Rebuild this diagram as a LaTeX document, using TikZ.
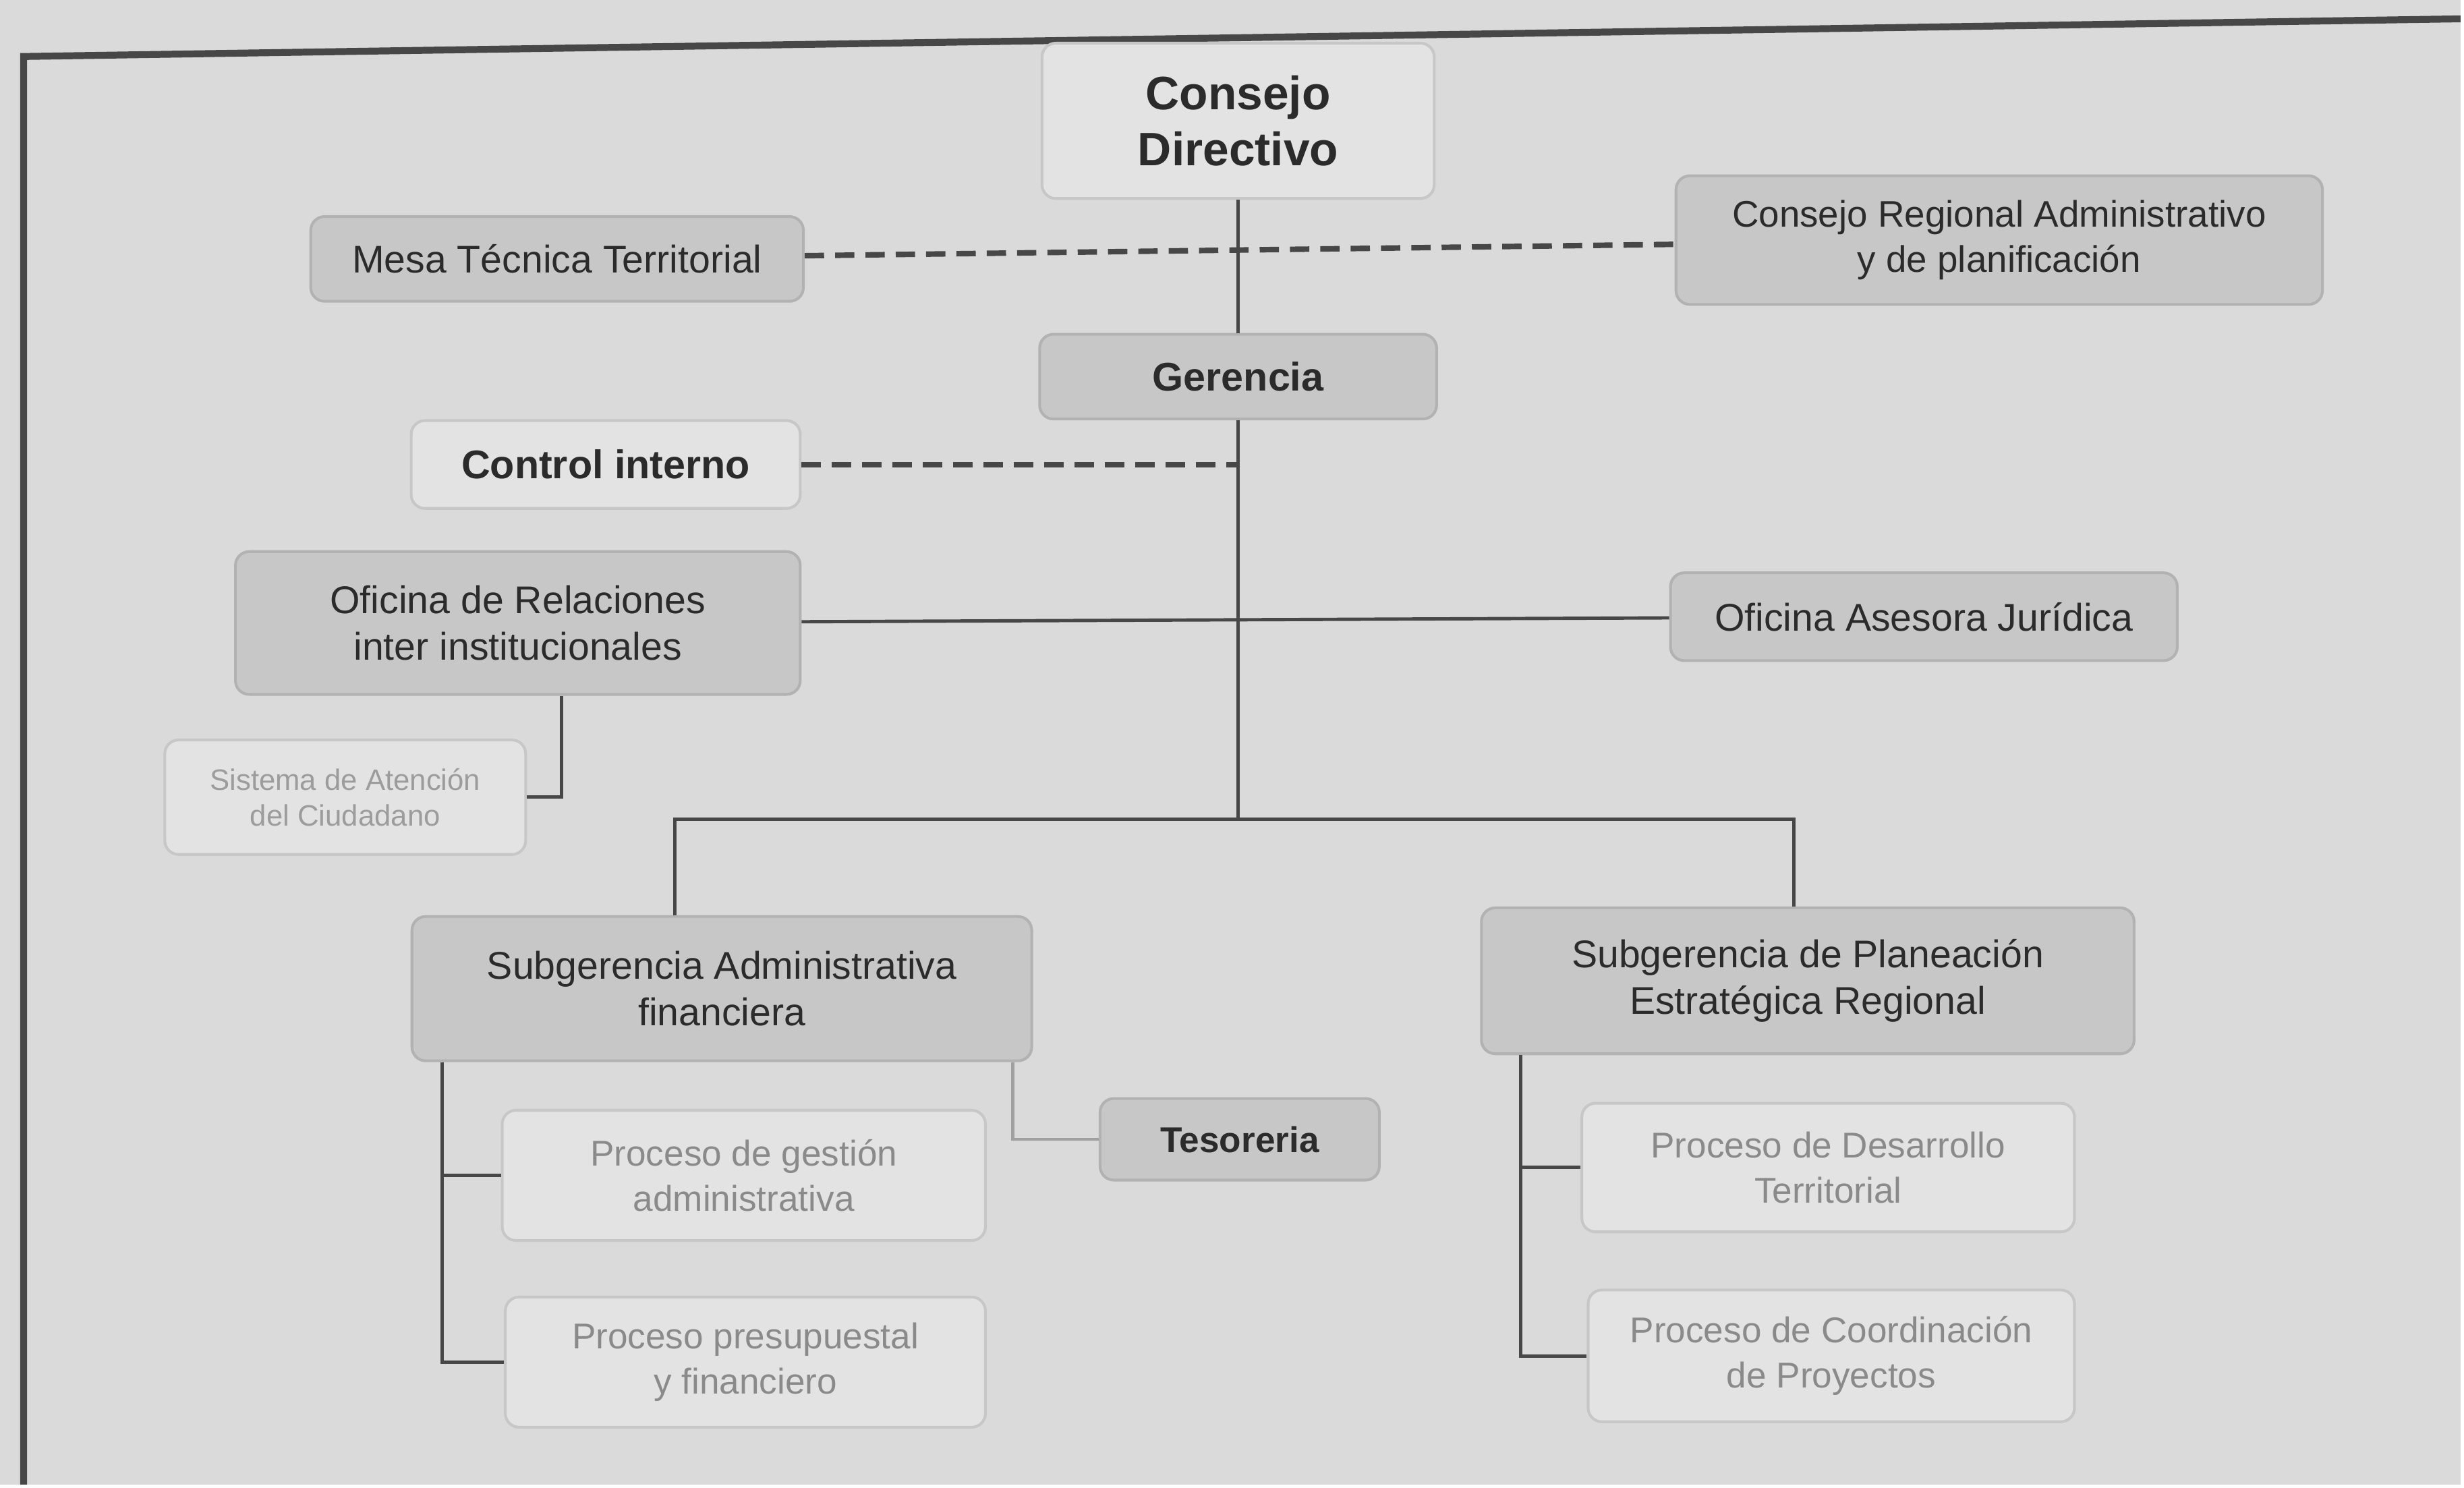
\documentclass[tikz,border=0pt]{standalone}
\usepackage{fontspec}
\setmainfont{Liberation Sans}
\usetikzlibrary{positioning,calc}
\definecolor{paper}{HTML}{DADADA}
\definecolor{boxgray}{HTML}{C7C7C7}
\definecolor{boxlight}{HTML}{E3E3E3}
\definecolor{edgegray}{HTML}{B2B2B2}
\definecolor{ink}{HTML}{2B2B2B}
\definecolor{faded}{HTML}{8A8A8A}
\definecolor{wire}{HTML}{474747}

\begin{document}
\begin{tikzpicture}[
    x=0.02cm, y=-0.02cm,
    box/.style={ draw=edgegray,
      fill=boxgray,
      line width=1pt,
      rounded corners=5pt,
      anchor=center,
      align=center,
      inner sep=0pt,
      text=ink,
      font=\fontsize{14}{17}\selectfont},
    lightbox/.style={ box,
      fill=boxlight,
      draw=boxgray},
    boldtext/.style={font=\fontsize{14.5}{17}\selectfont\bfseries},
    fadetext/.style={text=faded, font=\fontsize{13}{16.5}\selectfont},
    link/.style={draw=wire, line width=1.2pt},
    dotlink/.style={draw=wire, line width=2pt, dashed, dash pattern=on 7pt off 4pt}]
    % paper and frame
    \fill[paper] (0,0) rectangle (1568,946);
    \draw[wire, line width=2.5pt] (15,946) -- (15,36) -- (1568,12);

    \node[lightbox, minimum width=5cm, minimum height=1.98cm,
      font=\fontsize{17}{20.5}\selectfont\bfseries] (CD) at (789,77) {Consejo\\Directivo};
    \node[box, minimum width=6.28cm, minimum height=1.08cm] (MT) at (355,165) {Mesa T\'ecnica Territorial};
    \node[box, minimum width=8.24cm, minimum height=1.64cm,
      font=\fontsize{13.4}{16.5}\selectfont] (CR) at (1274,153) {Consejo Regional Administrativo\\y de planificaci\'on};
    \node[box, boldtext, minimum width=5.06cm, minimum height=1.08cm] (G) at (789,240) {Gerencia};
    \node[lightbox, boldtext, minimum width=4.96cm, minimum height=1.12cm] (CI) at (386,296) {Control interno};
    \node[box, minimum width=7.2cm, minimum height=1.82cm] (OR) at (330,397) {Oficina de Relaciones\\inter institucionales};
    \node[box, minimum width=6.46cm, minimum height=1.12cm] (OA) at (1226,393) {Oficina Asesora Jur\'idica};
    \node[lightbox, minimum width=4.6cm, minimum height=1.46cm,
      text=faded!80!boxlight, font=\fontsize{10.7}{13}\selectfont] (SA) at (220,508) {Sistema de Atenci\'on\\del Ciudadano};
    \node[box, minimum width=7.9cm, minimum height=1.84cm] (SAF) at (460,630) {Subgerencia Administrativa\\financiera};
    \node[box, minimum width=8.32cm, minimum height=1.86cm] (SPE) at (1152,625) {Subgerencia de Planeaci\'on\\Estrat\'egica Regional};
    \node[box, boldtext, minimum width=3.56cm, minimum height=1.04cm,
      font=\fontsize{13}{16}\selectfont\bfseries] (T) at (790,726) {Tesoreria};
    \node[lightbox, fadetext, minimum width=6.16cm, minimum height=1.66cm] (PG) at (474,749) {Proceso de gesti\'on\\administrativa};
    \node[lightbox, fadetext, minimum width=6.12cm, minimum height=1.66cm] (PP) at (475,868) {Proceso presupuestal\\y financiero};
    \node[lightbox, fadetext, minimum width=6.28cm, minimum height=1.64cm] (PD) at (1165,744) {Proceso de Desarrollo\\Territorial};
    \node[lightbox, fadetext, minimum width=6.2cm, minimum height=1.68cm] (PC) at (1167,864) {Proceso de Coordinaci\'on\\de Proyectos};

    \coordinate (bus) at (789,522);

    \draw[dotlink] (MT) -- (CR);
    \draw[link] (CD) -- (G);
    \draw[dotlink] (CI.east) -- (CI.east -| G.south);
    \draw[link] (OR) -- (OA);
    \draw[link] (G) -- (bus);
    \draw[link] ([xshift=0.56cm]OR.south) |- (SA.east);
    \draw[link] ([xshift=-0.6cm]SAF.north) |- (bus) -| ([xshift=-0.18cm]SPE.north);
    \draw[link] ([xshift=0.4cm]SAF.south west) |- (PG.west);
    \draw[link] ([xshift=0.4cm]SAF.south west) |- (PP.west);
    \draw[link, draw=wire!40!paper] ([xshift=-0.26cm]SAF.south east) |- (T.west);
    \draw[link] ([xshift=0.52cm]SPE.south west) |- (PD.west);
    \draw[link] ([xshift=0.52cm]SPE.south west) |- (PC.west);
\end{tikzpicture}
\end{document}
